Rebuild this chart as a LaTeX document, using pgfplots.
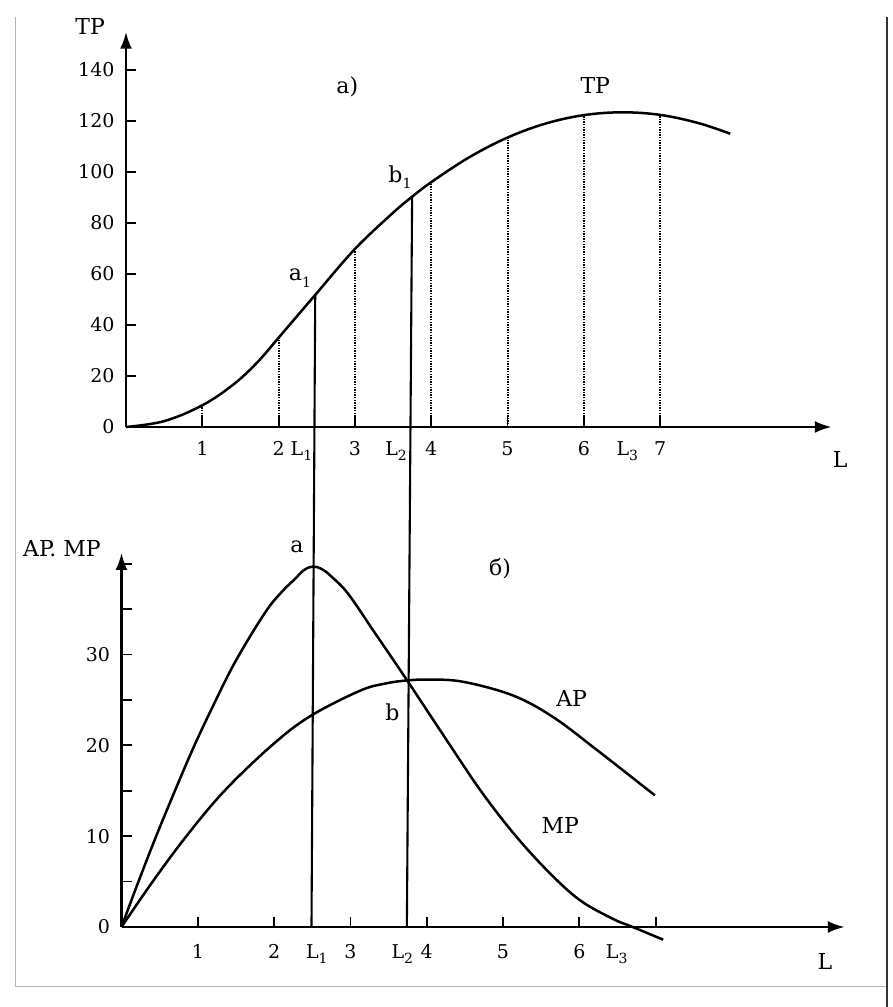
\documentclass[border=0pt]{standalone}
\usepackage{fontspec}
\setmainfont{DejaVu Serif}
\usepackage{pgfplots}
\pgfplotsset{compat=1.18}
\usetikzlibrary{arrows.meta}

\newcommand{\sub}[1]{\raisebox{-0.55ex}{\fontsize{14}{14}\selectfont #1}}
\tikzset{lab/.style={font=\fontsize{22}{24}\selectfont}}

\pgfplotsset{
  econ/.style={
    axis lines=left,
    axis line style={line width=2.6pt},
    every outer x axis line/.append style={-{Latex[length=17pt,width=12pt]}},
    every outer y axis line/.append style={-{Latex[length=17pt,width=12pt]}},
    enlargelimits=false,
    clip=false,
    scale only axis,
    anchor=south west,
    tick align=inside,
    major tick length=10pt,
    every tick/.style={black, line width=1.8pt},
    /pgf/number format/assume math mode=true,
    tick label style={font=\fontsize{19}{22}\selectfont},
    yticklabel style={xshift=-5pt},
    extra x tick style={major tick length=0pt},
  },
  curve/.style={black, line width=2.5pt, smooth, tension=0.6, no marks},
  drop/.style={black, line width=2pt, dash pattern=on 1.3pt off 1.3pt, no marks},
  guide/.style={black, line width=2.1pt, no marks},
}

\begin{document}
\fontsize{19}{22}\selectfont
\begin{tikzpicture}
\path[use as bounding box] (0,0) rectangle (892pt,1007pt);
\fill[white] (0,0) rectangle (892pt,1007pt);
% scan frame
\draw[black!30, line width=1pt] (15pt,990pt) -- (15pt,20pt) -- (887pt,20pt);
\draw[black!80, line width=2pt] (887pt,990pt) -- (887pt,0pt);

% a) total product
\begin{axis}[econ,
  at={(126pt,580pt)},
  x=76.3pt, y=2.55pt,
  xmin=0, xmax=9.25, ymin=0, ymax=155,
  xtick={1,...,7},
  ytick={0,20,...,140},
  xticklabel style={yshift=-8pt},
  extra x ticks={2.3,3.54,6.57},
  extra x tick labels={L\sub{1},L\sub{2},L\sub{3}},
]
\addplot[curve] coordinates {
  (0,0) (0.5,2.3) (1,8.5) (1.4,16.5) (1.71,25) (2,35) (2.48,51.8)
  (3,69.8) (3.5,84) (3.75,90.3) (4,96) (4.5,105.8) (5,113.5)
  (5.5,119) (6,122.3) (6.5,123.4) (7,122.4) (7.5,119.2) (7.92,115)
};
\addplot[drop] coordinates {(1,0) (1,8.5)};
\addplot[drop] coordinates {(2,0) (2,35)};
\addplot[drop] coordinates {(3,0) (3,69.8)};
\addplot[drop] coordinates {(4,0) (4,96)};
\addplot[drop] coordinates {(5,0) (5,113.5)};
\addplot[drop] coordinates {(6,0) (6,122.3)};
\addplot[drop] coordinates {(7,0) (7,122.4)};
\node[lab] at (-0.47,156.9) {TP};
\node[lab] at (2.90,133.3) {а)};
\node[lab] at (6.15,134.1) {TP};
\node[lab] at (2.28,58.4) {a\sub{1}};
\node[lab] at (3.59,98) {b\sub{1}};
\node[lab] at (9.36,-12.9) {L};
\end{axis}

% b) average and marginal product
\begin{axis}[econ,
  at={(121.5pt,80pt)},
  x=76.3pt, y=9.08pt,
  xmin=0, xmax=9.48, ymin=0, ymax=41.2,
  xtick={1,...,7},
  xticklabels={1,2,3,4,5,6,{}},
  xticklabel style={yshift=-11pt},
  ytick={0,5,...,40},
  yticklabels={0,{},10,{},20,{},30,{},{}},
  extra x ticks={2.56,3.68,6.49},
  extra x tick labels={L\sub{1},L\sub{2},L\sub{3}},
]
% MP
\addplot[curve] coordinates {
  (0,0) (0.22,4.95) (0.44,9.7) (0.68,14.6) (0.94,19.7) (1.18,24)
  (1.49,29.2) (1.88,34.6) (2.1,36.9) (2.27,38.3) (2.39,39.3) (2.51,39.7)
  (2.63,39.4) (2.75,38.6) (2.97,36.7) (3.32,32.4) (3.74,27.2) (4.26,20.6)
  (4.7,15.1) (5.13,10.4) (5.57,6.3) (6.0,3.0) (6.44,0.9) (6.7,0) (7.1,-1.4)
};
% AP
\addplot[curve] coordinates {
  (0,0) (0.4,4.9) (0.85,10) (1.35,15) (1.97,20) (2.47,23.2) (3.12,26)
  (3.45,26.8) (3.74,27.15) (4.04,27.25) (4.48,27) (5.13,25.5)
  (5.66,23.1) (6.23,19.5) (6.99,14.5)
};
% L1 and L2 guides, running up to a1 and b1 of panel a)
\addplot[guide] coordinates {(2.49,0) (2.539,69.6)};
\addplot[guide] coordinates {(3.74,0) (3.809,80.4)};
\node[lab] at (2.30,41.9) {a};
\node[lab] at (4.96,39.5) {б)};
\node[lab] at (3.55,23.7) {b};
\node[lab] at (5.90,25.2) {AP};
\node[lab] at (5.75,11.2) {MP};
\node[lab] at (-0.78,41.7) {AP. MP};
\node[lab] at (9.22,-3.85) {L};
\end{axis}
\end{tikzpicture}
\end{document}
